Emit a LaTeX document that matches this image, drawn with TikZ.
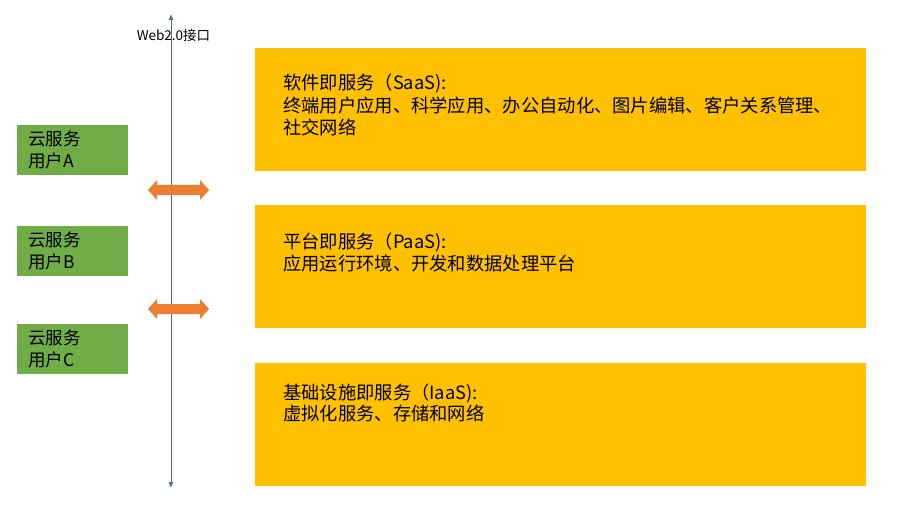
\documentclass[tikz,border=0pt]{standalone}
\usepackage{fontspec}
\setmainfont{Noto Sans CJK SC}
\newfontfamily\cjk{Noto Sans CJK SC}
\usetikzlibrary{arrows.meta}
\definecolor{ugreen}{HTML}{70AD47}
\definecolor{uyellow}{HTML}{FFC000}
\definecolor{uorange}{HTML}{ED7D31}
\definecolor{uaxis}{HTML}{4F6D9C}
\tikzset{
  userbox/.style={draw=none, fill=ugreen, minimum width=111pt, minimum height=50pt, inner xsep=11pt, inner ysep=0pt, text width=89pt, align=left, font=\cjk\fontsize{17.5}{22}\selectfont, anchor=north west},
  layerbox/.style={draw=none, fill=uyellow, minimum width=611pt, minimum height=123pt, anchor=north west, inner sep=0pt},
  layertext/.style={anchor=base west, inner sep=0pt, font=\cjk\fontsize{18.3}{22}\selectfont},
  axisline/.style={draw=uaxis, line width=0.9pt, {Latex[length=6pt,width=5pt]}-{Latex[length=6pt,width=5pt]}},
  linkarrow/.style={fill=uorange, draw=none},
}
\begin{document}
\begin{tikzpicture}[x=1pt,y=-1pt]
\useasboundingbox (0,0) rectangle (901,510);
% axis
\coordinate (axtop) at (171,14);
\coordinate (axbot) at (171,488);
\node[inner sep=0pt, font=\cjk\fontsize{13.5}{15}\selectfont] (web) at (173.5,35) {Web2.0接口};
\draw[axisline] (axtop) -- (axbot);
% user boxes
\node[userbox] (ua) at (17,125) {云服务\\用户A};
\node[userbox] (ub) at (17,226) {云服务\\用户B};
\node[userbox] (uc) at (17,324) {云服务\\用户C};
% double arrows
\foreach \yy/\nm in {190/a1, 309/a2}{
  \fill[linkarrow] (148,\yy) -- (157,\yy-10) -- (157,\yy-5) -- (200,\yy-5) -- (200,\yy-10) -- (209,\yy) -- (200,\yy+10) -- (200,\yy+5) -- (157,\yy+5) -- (157,\yy+10) -- cycle;
}
% layer boxes
\node[layerbox] (saas) at (255,48) {};
\node[layerbox] (paas) at (255,205) {};
\node[layerbox] (iaas) at (255,363) {};
% texts
\node[layertext] (s1) at (283,90) {软件即服务（SaaS):};
\node[layertext] (s2) at (283,112.5) {终端用户应用、科学应用、办公自动化、图片编辑、客户关系管理、};
\node[layertext] (s3) at (283,135) {社交网络};
\node[layertext] (p1) at (283,249) {平台即服务（PaaS):};
\node[layertext] (p2) at (283,271) {应用运行环境、开发和数据处理平台};
\node[layertext] (i1) at (283,399) {基础设施即服务（IaaS):};
\node[layertext] (i2) at (283,420) {虚拟化服务、存储和网络};
\end{tikzpicture}
\end{document}
